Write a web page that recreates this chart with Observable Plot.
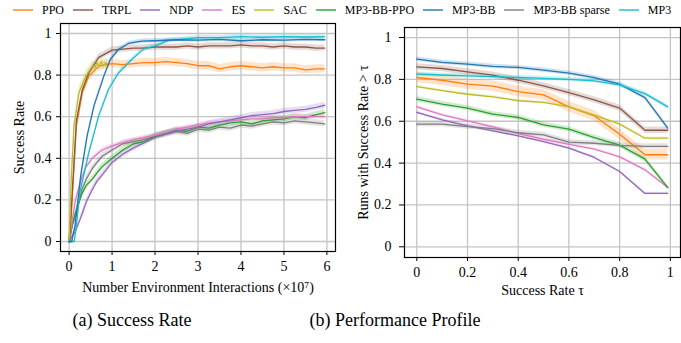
<!DOCTYPE html>
<html><head><meta charset="utf-8">
<script src="https://cdn.jsdelivr.net/npm/d3@7"></script>
<script src="https://cdn.jsdelivr.net/npm/@observablehq/plot@0.6"></script>
<style>
body{margin:0;background:#fff;}
#root{position:relative;width:681px;height:343px;overflow:hidden;font-family:"Liberation Serif","Times New Roman",Times,"DejaVu Serif",serif;color:#000;}
#legend{position:absolute;left:13px;top:2px;height:16px;display:flex;align-items:center;font-size:12px;white-space:nowrap;}
.item{display:flex;align-items:center;margin-right:9px;}
.sw{width:20px;height:0;border-top:2px solid;margin-right:9px;opacity:0.7;}
#left{position:absolute;left:0;top:0;}
#right{position:absolute;left:340px;top:0;}
.cap{position:absolute;top:310px;width:220px;text-align:center;font-size:18px;line-height:20px;}
svg text{font-family:"Liberation Serif","Times New Roman",Times,"DejaVu Serif",serif;}
</style></head>
<body><div id="root">
<div id="legend"></div>
<div id="left"></div>
<div id="right"></div>
<div class="cap" style="left:22px">(a) Success Rate</div>
<div class="cap" style="left:285px">(b) Performance Profile</div>
</div>
<script>
// ---- series names and colours ----
const names = ["PPO","TRPL","NDP","ES","SAC","MP3-BB-PPO","MP3-BB","MP3-BB sparse","MP3"];
const colors = ["#ff7f0e","#8c564b","#9467bd","#e377c2","#bcbd22","#2ca02c","#1f77b4","#7f7f7f","#17becf"];

// ---- (a) Success rate vs interactions (x 1e7) ----
const xFast = [0,0.05,0.1,0.17,0.31,0.46,0.69,1.0,1.25,1.5,1.75,2.0,2.25,2.5,2.75,3.0,3.25,3.5,3.75,4.0,4.25,4.5,4.75,5.0,5.25,5.5,5.75,5.95];
const ppoA  = [0,0.12,0.3,0.556,0.716,0.795,0.843,0.855,0.85,0.855,0.86,0.86,0.865,0.86,0.855,0.845,0.845,0.83,0.84,0.845,0.84,0.835,0.84,0.835,0.835,0.825,0.83,0.83];
const trplA = [0,0.15,0.33,0.58,0.73,0.81,0.885,0.92,0.925,0.93,0.93,0.935,0.935,0.935,0.94,0.935,0.94,0.94,0.94,0.945,0.94,0.94,0.935,0.94,0.935,0.935,0.93,0.93];
const xSac  = [0,0.05,0.115,0.23,0.385,0.5,0.55,0.6,0.65,0.7,0.75,0.8,0.85,0.9];
const sacA  = [0,0.3,0.556,0.716,0.795,0.83,0.845,0.835,0.86,0.84,0.865,0.845,0.86,0.85];
const xBB   = [0,0.06,0.14,0.27,0.42,0.58,0.81,0.96,1.15,1.38,1.69,2.0,2.5,3.0,3.5,4.0,4.5,5.0,5.5,5.95];
const bbA   = [0,0,0.077,0.316,0.508,0.652,0.795,0.875,0.923,0.952,0.963,0.965,0.97,0.968,0.972,0.965,0.97,0.968,0.972,0.97];
const xMP3  = [0,0.12,0.17,0.25,0.46,0.69,0.92,1.15,1.46,1.74,2.0,2.3,2.75,3.0,3.5,4.0,4.5,5.0,5.5,5.95];
const mp3A  = [0,0,0.077,0.236,0.428,0.604,0.732,0.81,0.875,0.926,0.94,0.966,0.975,0.98,0.98,0.985,0.982,0.985,0.983,0.985];
const xSlow = [0,0.08,0.15,0.3,0.4,0.54,0.65,0.77,1.0,1.25,1.5,1.75,2.0,2.25,2.5,2.75,3.0,3.25,3.5,3.75,4.0,4.25,4.5,4.75,5.0,5.25,5.5,5.75,5.95];
const esA   = [0,0.11,0.2,0.31,0.36,0.4,0.42,0.44,0.46,0.475,0.49,0.5,0.51,0.525,0.54,0.55,0.56,0.57,0.575,0.58,0.585,0.59,0.59,0.595,0.595,0.6,0.6,0.6,0.6];
const ndpA  = [0,0.03,0.05,0.13,0.19,0.25,0.29,0.32,0.38,0.42,0.45,0.475,0.5,0.515,0.53,0.54,0.55,0.565,0.575,0.585,0.595,0.605,0.61,0.615,0.625,0.63,0.635,0.645,0.655];
const bbppoA= [0,0.09,0.14,0.23,0.27,0.3,0.33,0.36,0.4,0.44,0.47,0.48,0.505,0.52,0.535,0.53,0.55,0.545,0.56,0.57,0.575,0.565,0.58,0.585,0.59,0.6,0.595,0.61,0.62];
const sparseA=[0,0.08,0.12,0.25,0.3,0.35,0.38,0.41,0.44,0.47,0.48,0.49,0.505,0.52,0.53,0.52,0.54,0.535,0.55,0.545,0.56,0.555,0.565,0.575,0.57,0.58,0.575,0.57,0.565];
// band half-widths (shaded spread) per series, in names order
const bandA = [0.02,0.015,0.015,0.01,0.025,0.015,0.01,0.015,0.01];

// ---- (b) Performance profile ----
const tau = [0,0.1,0.2,0.3,0.4,0.5,0.6,0.7,0.8,0.9,0.99];
const ppoB   = [0.809,0.796,0.777,0.768,0.742,0.726,0.669,0.626,0.538,0.44,0.44];
const trplB  = [0.86,0.852,0.836,0.82,0.796,0.769,0.737,0.702,0.663,0.557,0.557];
const ndpB   = [0.642,0.607,0.578,0.554,0.53,0.503,0.472,0.427,0.36,0.255,0.255];
const esB    = [0.669,0.631,0.602,0.573,0.541,0.514,0.49,0.467,0.43,0.368,0.283];
const sacB   = [0.766,0.746,0.729,0.717,0.698,0.69,0.669,0.629,0.586,0.519,0.519];
const bbppoB = [0.706,0.682,0.663,0.634,0.618,0.583,0.562,0.522,0.486,0.419,0.283];
const bbB    = [0.897,0.881,0.873,0.862,0.857,0.844,0.83,0.809,0.777,0.713,0.567];
const sparseB= [0.586,0.586,0.574,0.565,0.545,0.535,0.5,0.495,0.485,0.48,0.48];
const mp3B   = [0.825,0.821,0.817,0.813,0.809,0.805,0.8,0.793,0.774,0.732,0.669];
const bandB = [0.025,0.015,0.006,0.006,0.006,0.012,0.01,0.012,0.01];

// tick labels
const xTicksA = [0,1,2,3,4,5,6];
const yTicks  = [0,0.2,0.4,0.6,0.8,1];
const xTicksB = [0,0.2,0.4,0.6,0.8,1];

function rows(list, band) {
  const out = [];
  list.forEach(([name, xs, ys]) => {
    const b = band[names.indexOf(name)];
    xs.forEach((x, i) => out.push({name, x, y: ys[i], lo: ys[i] - b, hi: ys[i] + b}));
  });
  return out;
}

const dataA = rows([
  ["MP3-BB sparse", xSlow, sparseA], ["MP3-BB-PPO", xSlow, bbppoA], ["ES", xSlow, esA], ["NDP", xSlow, ndpA],
  ["PPO", xFast, ppoA], ["TRPL", xFast, trplA], ["SAC", xSac, sacA], ["MP3", xMP3, mp3A], ["MP3-BB", xBB, bbA]
], bandA);

const dataB = rows([
  ["PPO", tau, ppoB], ["TRPL", tau, trplB], ["NDP", tau, ndpB], ["ES", tau, esB], ["SAC", tau, sacB],
  ["MP3-BB-PPO", tau, bbppoB], ["MP3-BB", tau, bbB], ["MP3-BB sparse", tau, sparseB], ["MP3", tau, mp3B]
], bandB);

const fmt = d => String(d);
const FONT = "'Liberation Serif','Times New Roman',Times,'DejaVu Serif',serif";
const style = {fontFamily: FONT, fontSize: "14px", color: "#000", background: "transparent", overflow: "visible"};

const left = Plot.plot({
  width: 340, height: 300,
  marginLeft: 60, marginRight: 5, marginTop: 23, marginBottom: 49,
  style,
  x: {domain: [-0.2, 6.2]},
  y: {domain: [-0.048, 1.048]},
  color: {domain: names, range: colors},
  marks: [
    Plot.gridX(xTicksA, {stroke: "#c4c4c4", strokeOpacity: 1, strokeWidth: 1.3}),
    Plot.gridY(yTicks, {stroke: "#c4c4c4", strokeOpacity: 1, strokeWidth: 1.3}),
    Plot.areaY(dataA, {x: "x", y1: "lo", y2: "hi", z: "name", fill: "name", fillOpacity: 0.22}),
    Plot.line(dataA, {x: "x", y: "y", z: "name", stroke: "name", strokeWidth: 1.3}),
    Plot.axisX(xTicksA, {tickSize: 4, tickPadding: 6, tickFormat: fmt, label: "Number Environment Interactions (×10⁷)", labelAnchor: "center", labelArrow: "none", labelOffset: 40, fontSize: 14}),
    Plot.axisY(yTicks, {tickSize: 4, tickPadding: 5, tickFormat: fmt, label: "Success Rate", labelAnchor: "center", labelArrow: "none", labelOffset: 46, fontSize: 14}),
    Plot.frame({stroke: "#000", strokeWidth: 1.2})
  ]
});

const right = Plot.plot({
  width: 341, height: 300,
  marginLeft: 64, marginRight: 1, marginTop: 27, marginBottom: 43,
  style,
  x: {domain: [-0.0485, 1.04]},
  y: {domain: [-0.051, 1.048]},
  color: {domain: names, range: colors},
  marks: [
    Plot.gridX(xTicksB, {stroke: "#c4c4c4", strokeOpacity: 1, strokeWidth: 1.3}),
    Plot.gridY(yTicks, {stroke: "#c4c4c4", strokeOpacity: 1, strokeWidth: 1.3}),
    Plot.areaY(dataB, {x: "x", y1: "lo", y2: "hi", z: "name", fill: "name", fillOpacity: 0.22}),
    Plot.line(dataB, {x: "x", y: "y", z: "name", stroke: "name", strokeWidth: 1.3}),
    Plot.axisX(xTicksB, {tickSize: 4, tickPadding: 6, tickFormat: fmt, label: "Success Rate τ", labelAnchor: "center", labelArrow: "none", labelOffset: 37, fontSize: 14}),
    Plot.axisY(yTicks, {tickSize: 5, tickPadding: 8, tickFormat: fmt, label: "Runs with Success Rate > τ", labelAnchor: "center", labelArrow: "none", labelOffset: 46, fontSize: 14}),
    Plot.frame({stroke: "#000", strokeWidth: 1.2})
  ]
});

document.getElementById("left").appendChild(left);
document.getElementById("right").appendChild(right);

// legend
const leg = document.getElementById("legend");
names.forEach((n, i) => {
  const it = document.createElement("div");
  it.className = "item";
  const sw = document.createElement("span");
  sw.className = "sw";
  sw.style.borderTopColor = colors[i];
  const tx = document.createElement("span");
  tx.textContent = n;
  it.appendChild(sw); it.appendChild(tx);
  leg.appendChild(it);
});
</script>
</body></html>
